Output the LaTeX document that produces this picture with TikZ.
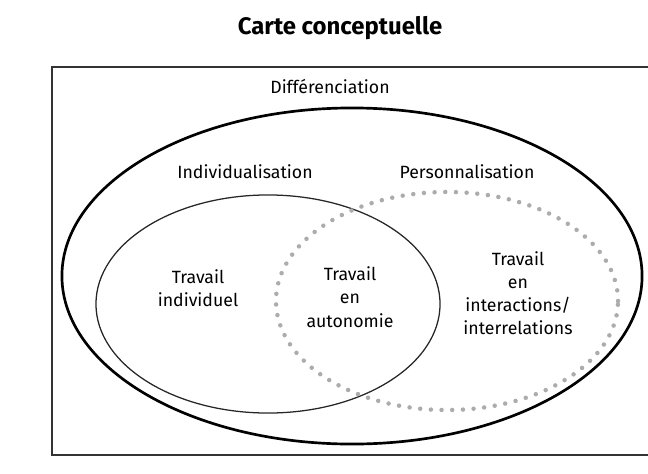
\documentclass[tikz,border=0pt]{standalone}
\usepackage{fontspec}
\setmainfont{Fira Sans}
\usetikzlibrary{shapes.geometric}

\begin{document}
\begin{tikzpicture}[
  x=0.025cm, y=-0.025cm,
  every node/.style={align=center},
  label/.style={font=\fontsize{12.6}{16.5}\selectfont, align=center, inner sep=1pt},
  zone/.style={ellipse, inner sep=0pt},
  dotline/.style={draw=gray!65, line width=3.2pt, line cap=round,
                  dash pattern=on 0pt off 7.6pt},
]

% Page size (pixels of the reference)
\useasboundingbox (0,0) rectangle (648,473);

% Title
\node[font=\fontsize{17}{20}\selectfont\bfseries] (titre) at (340,28) {Carte conceptuelle};

% Frame (open to the right)
\draw[line width=0.9pt, black!80] (660,67) -- (52,67) -- (52,455) -- (660,455);

% Sets
\node[zone, draw, line width=1.9pt, minimum width=14.5cm, minimum height=8.4cm]
  (diff) at (352,276) {};
\node[zone, draw=black!85, line width=0.9pt, minimum width=8.6cm, minimum height=5.45cm]
  (indiv) at (268,304) {};
\node[zone, dotline, minimum width=8.55cm, minimum height=5.45cm]
  (perso) at (447,301) {};

% Set names
\node[label] (ldiff)  at (330,87)  {Différenciation};
\node[label] (lindiv) at (245,172) {Individualisation};
\node[label] (lperso) at (467,172) {Personnalisation};

% Contents
\node[label] (tind)  at (198,288) {Travail\\individuel};
\node[label] (tauto) at (350,297) {Travail\\en\\autonomie};
\node[label] (tinter) at (518,293) {Travail\\en\\interactions/\\interrelations};

\end{tikzpicture}
\end{document}
